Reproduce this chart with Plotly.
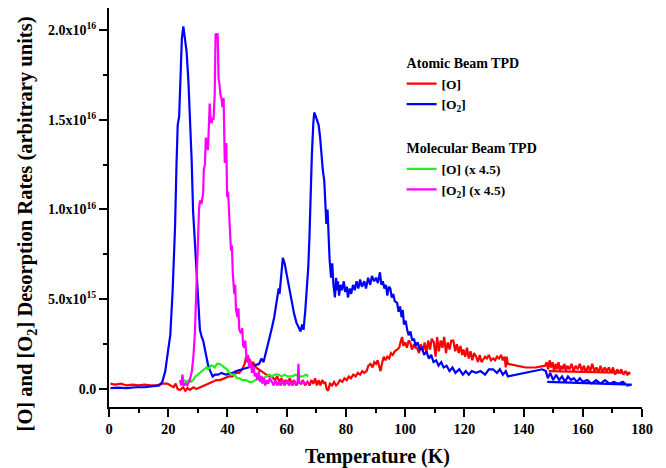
import plotly.graph_objects as go
import numpy as np

SCALE = 1e16  # values below are in units of 1e16

# Atomic beam TPD, [O2] (blue)
blue_T = [0.5,3,6,9,12,15,17,18,19,20,20.7,21.5,22.3,22.8,23.2,23.7,24.2,24.6,25.1,25.6,26.2,26.8,27.3,27.9,28.4,29.0,29.6,30.2,30.7,31.3,31.8,32.4,32.9,33.5,34.2,35.0,35.8,36.8,38,39.5,41.7,43,45,47.3,49,50.7,51.5,52.2,53,54,55,55.8,56.7,57.3,57.6,58,58.7,59.3,60,60.8,61.7,62.5,63.3,64,64.7,65.2,65.7,66.3,66.8,67.3,67.7,68,68.5,69.0,69.3,69.8,70.3,70.8,71.3,71.8,72.2,72.7,73,73.4,73.8,74.1,74.5,75,75.4,75.8,76.3,76.7,77.0,77.3,77.7,78.2,78.7,79.3,79.8,80.3,80.7,81.3,81.8,82.4,83,83.6,84.2,84.8,85.4,86.2,86.8,87.5,88.2,88.8,89.5,90.2,90.8,91.5,92.0,92.5,93.0,93.5,94.0,94.5,95.0,95.5,96.0,96.5,97.3,97.8,98.3,98.8,99.2,99.6,100.2,100.7,101.2,101.8,102.4,103,103.6,104.2,105,105.7,106.4,107.2,108,108.8,109.6,110.5,111.3,112.2,113,114,115,116,117,118.3,119.5,120.5,121.5,122.5,124,125.5,127,128.3,129.7,131,132,133,134,134.7,140.5,146.3,147.5,148.2,149,150,151,152,153,154,155,156,157,158,159,160,161.5,163,164.5,166,167.5,169,170.5,172,173.5,175,176.5,148]
blue_v = [0.005,0.008,0.005,0.01,0.01,0.015,0.02,0.04,0.10,0.22,0.30,0.55,0.90,1.25,1.47,1.52,1.85,1.95,2.02,1.96,1.88,1.72,1.55,1.28,0.99,0.82,0.68,0.48,0.33,0.29,0.27,0.22,0.17,0.13,0.10,0.07,0.08,0.08,0.09,0.08,0.09,0.10,0.11,0.12,0.13,0.14,0.17,0.15,0.20,0.27,0.34,0.40,0.49,0.56,0.53,0.62,0.73,0.70,0.64,0.57,0.48,0.42,0.37,0.34,0.32,0.36,0.33,0.44,0.55,0.68,0.85,1.05,1.30,1.48,1.54,1.52,1.50,1.47,1.40,1.28,1.22,1.16,1.05,0.92,1.00,0.85,0.72,0.62,0.70,0.58,0.51,0.62,0.55,0.60,0.52,0.58,0.55,0.60,0.54,0.57,0.51,0.56,0.53,0.58,0.55,0.60,0.56,0.61,0.57,0.60,0.56,0.62,0.58,0.63,0.60,0.62,0.59,0.65,0.58,0.60,0.56,0.58,0.52,0.57,0.56,0.51,0.53,0.49,0.48,0.43,0.46,0.40,0.44,0.36,0.38,0.33,0.30,0.32,0.27,0.28,0.24,0.26,0.22,0.23,0.19,0.21,0.17,0.19,0.15,0.16,0.13,0.15,0.12,0.13,0.10,0.12,0.09,0.11,0.08,0.10,0.08,0.10,0.09,0.10,0.08,0.11,0.11,0.09,0.11,0.08,0.10,0.07,0.09,0.11,0.10,0.06,0.09,0.05,0.08,0.05,0.07,0.04,0.07,0.05,0.06,0.04,0.06,0.04,0.05,0.03,0.05,0.03,0.05,0.03,0.04,0.03,0.04,0.02,0.025,0.04]

# Atomic beam TPD, [O] (red)
red_T = [0.5,2,4,6,8,10,12,14,16,18,19.7,21,21.8,22.5,23.2,24,25,25.8,26.5,27.3,28.5,29.5,30.7,32,33.5,35,36.2,37.5,39,40.5,41.7,43,44,45,45.8,46.3,46.8,47.4,48,48.7,49.6,50.5,51.5,52.2,53,54,55,56,56.8,57.5,58.2,59,59.6,60.3,61,61.8,62.5,63.2,64,64.8,65.5,66.2,67,67.8,68.3,69,69.6,70.2,70.8,71.4,72,72.6,73,73.5,74,74.6,75.3,76,76.7,77.3,78,78.8,79.5,80.3,81,81.7,82.5,83.3,84,84.8,85.5,86.2,87,87.6,88.3,89,89.6,90.2,90.7,91.2,91.7,92.3,92.8,93.4,94,94.6,95.2,95.8,96.5,97.3,98,98.6,99,99.4,100,100.6,101.2,101.7,102.3,103,103.5,104,104.7,105.3,106,106.6,107.2,107.8,108.4,109,109.7,110.3,110.8,111.4,112,112.6,113.2,113.8,114.4,115,115.6,116.3,116.9,117.5,118.1,118.7,119.3,119.7,120.3,120.9,121.5,122.1,122.7,123.3,124,124.6,125.2,125.8,126.3,127,127.6,128.3,129,129.7,130.4,131,131.7,132.4,133,133.6,134,134.3,134.7,137.5,140.7,144,147.3,147.8,148.3,148.8,149.3,149.8,150.3,150.8,151.3,151.8,152.3,152.8,153.3,153.8,154.3,154.8,155.5,156.2,156.9,157.6,158.3,159,159.7,160.4,161.1,161.8,162.5,163.2,163.9,164.6,165.3,166,166.7,167.4,168.1,168.8,169.5,170.2,170.9,171.6,172.3,173,173.7,174.4,175.1,176,148.5]
red_v = [0.03,0.025,0.03,0.02,0.025,0.02,0.025,0.02,0.02,0.03,0.03,0.02,0.01,0.03,0.0,-0.005,0.01,-0.01,0.005,-0.005,0.01,0.0,0.01,0.02,0.03,0.04,0.05,0.05,0.06,0.07,0.07,0.09,0.09,0.11,0.14,0.18,0.15,0.17,0.13,0.15,0.12,0.11,0.10,0.09,0.08,0.07,0.07,0.05,0.07,0.04,0.06,0.03,0.05,0.03,0.06,0.03,0.05,0.02,0.04,0.03,0.05,0.02,0.04,0.02,0.05,0.03,0.06,0.02,0.05,0.02,0.05,0.03,0.04,0.00,-0.01,0.03,0.02,0.04,0.02,0.03,0.05,0.04,0.06,0.05,0.07,0.06,0.08,0.07,0.09,0.08,0.10,0.09,0.10,0.13,0.14,0.12,0.15,0.14,0.16,0.12,0.10,0.15,0.18,0.16,0.18,0.17,0.20,0.19,0.21,0.22,0.23,0.27,0.29,0.24,0.26,0.23,0.27,0.26,0.22,0.25,0.23,0.23,0.20,0.25,0.21,0.26,0.20,0.27,0.22,0.28,0.26,0.18,0.29,0.21,0.27,0.23,0.29,0.20,0.26,0.22,0.27,0.27,0.21,0.25,0.20,0.24,0.19,0.22,0.18,0.23,0.17,0.21,0.16,0.20,0.18,0.15,0.19,0.15,0.16,0.18,0.17,0.19,0.16,0.17,0.16,0.18,0.17,0.19,0.16,0.18,0.12,0.18,0.14,0.13,0.12,0.12,0.13,0.15,0.11,0.16,0.12,0.15,0.10,0.14,0.11,0.15,0.10,0.13,0.11,0.14,0.10,0.13,0.11,0.14,0.10,0.13,0.11,0.14,0.10,0.13,0.09,0.13,0.10,0.14,0.10,0.12,0.09,0.13,0.09,0.12,0.10,0.12,0.09,0.12,0.08,0.11,0.09,0.11,0.08,0.10,0.08,0.09,0.10]

# Molecular beam TPD, [O] x 4.5 (green)
green_T = [24.6,25.3,26.2,27,27.7,28.4,29.2,30,30.7,31.5,32.2,32.9,33.6,34.3,35,35.7,36.4,37.3,38.2,39,39.8,40.7,41.5,42.3,43.2,44,45,46.3,47.4,48.4,49.5,50.5,51.5,52.3,53,54,55,56,57.3,58.3,59.3,60.3,61.7,63,64.3,65.5,66.5,67.3]
green_v = [0.04,0.05,0.04,0.05,0.04,0.05,0.07,0.08,0.09,0.10,0.11,0.12,0.11,0.13,0.13,0.12,0.14,0.14,0.13,0.12,0.11,0.09,0.08,0.08,0.06,0.06,0.05,0.05,0.04,0.04,0.05,0.06,0.07,0.06,0.07,0.08,0.07,0.08,0.08,0.07,0.08,0.07,0.07,0.08,0.07,0.07,0.08,0.07]

# Molecular beam TPD, [O2] x 4.5 (magenta)
mag_T = [24,24.4,24.8,25.2,25.8,26.4,27,27.3,28,28.5,29,29.5,30,30.4,30.7,31.2,31.8,32.0,32.4,32.7,33.0,33.4,33.7,34,34.3,34.6,35,35.3,35.7,35.9,36.0,36.4,36.7,37,37.3,37.6,38.0,38.3,38.7,39.1,39.4,39.6,39.9,40.2,40.4,40.8,41.2,41.5,41.8,42.3,42.6,42.9,43.4,43.7,44.0,44.6,45.0,45.3,45.7,46.0,46.5,47.0,47.3,47.8,48.3,48.8,49.2,49.6,50.1,50.6,51.0,51.5,51.8,52.3,52.8,53.3,53.8,54.3,55,55.6,56.2,56.8,57.4,58,58.6,59.2,59.6,60.2,60.8,61.4,62,62.6,63.2,63.7,64.0,64.2,64.8,65.5,66.3,67.3]
mag_v = [0.05,0.02,0.08,0.02,0.03,0.02,0.04,0.05,0.10,0.18,0.31,0.55,0.87,1.00,1.05,1.03,1.09,1.22,1.25,1.40,1.38,1.33,1.45,1.59,1.50,1.48,1.51,1.50,1.64,1.80,1.98,1.97,1.98,1.73,1.70,1.64,1.62,1.57,1.62,1.26,1.30,1.37,1.07,1.10,1.01,0.90,0.77,0.80,0.65,0.53,0.58,0.44,0.40,0.45,0.33,0.31,0.34,0.24,0.23,0.27,0.16,0.19,0.12,0.16,0.09,0.13,0.07,0.09,0.05,0.10,0.04,0.07,0.03,0.06,0.02,0.05,0.03,0.06,0.04,0.02,0.05,0.02,0.04,0.02,0.05,0.02,0.03,0.05,0.02,0.04,0.02,0.04,0.03,0.04,0.14,0.04,0.03,0.04,0.03,0.04]

y_tickvals = [0, 0.5, 1.0, 1.5, 2.0]
y_ticktext = ["0.0", "5.0x10<sup>15</sup>", "1.0x10<sup>16</sup>", "1.5x10<sup>16</sup>", "2.0x10<sup>16</sup>"]
x_tickvals = [0, 20, 40, 60, 80, 100, 120, 140, 160, 180]

FONT = "Liberation Serif"

fig = go.Figure()
series = [
    (red_T, red_v, "#ff0000", "[O]", "atomic", "Atomic Beam TPD", 1),
    (blue_T, blue_v, "#0000ff", "[O<sub>2</sub>]", "atomic", "Atomic Beam TPD", 2),
    (green_T, green_v, "#22ee22", "[O] (x 4.5)", "molecular", "Molecular Beam TPD", 3),
    (mag_T, mag_v, "#ff00ff", "[O<sub>2</sub>] (x 4.5)", "molecular", "Molecular Beam TPD", 4),
]
for T, v, c, name, grp, gtitle, rank in series:
    fig.add_trace(go.Scatter(
        x=T, y=np.array(v) * SCALE, mode="lines", name=name,
        line=dict(color=c, width=2.2),
        legendgroup=grp, legendrank=rank,
        legendgrouptitle=dict(text=gtitle, font=dict(family=FONT, size=14, color="black", weight="bold")),
    ))

fig.update_layout(
    width=666, height=468,
    margin=dict(l=101, r=32, t=0, b=69),
    paper_bgcolor="white", plot_bgcolor="white",
    showlegend=True,
    legend=dict(x=0.549, y=0.902, xanchor="left", yanchor="top",
                font=dict(family=FONT, size=13.5, color="black", weight="bold"),
                tracegroupgap=23, bgcolor="rgba(0,0,0,0)"),
    font=dict(family=FONT, color="black"),
    annotations=[
        dict(text="Temperature (K)", xref="paper", yref="paper", x=0.503, y=-0.1253,
             xanchor="center", yanchor="middle", showarrow=False,
             font=dict(family=FONT, size=20, color="black", weight="bold")),
        dict(text="[O] and [O<sub>2</sub>] Desorption Rates (arbitrary units)", xref="paper", yref="paper",
             x=-0.155, y=0.4586, xanchor="center", yanchor="middle", textangle=-90, showarrow=False,
             font=dict(family=FONT, size=20.5, color="black", weight="bold")),
    ],
)
fig.update_xaxes(
    range=[0, 180], showgrid=False, zeroline=False,
    showline=True, linecolor="black", linewidth=2,
    ticks="outside", ticklen=8, tickwidth=2, tickcolor="black",
    tickvals=x_tickvals,
    tickfont=dict(family=FONT, size=14.5, color="black", weight="bold"),
    minor=dict(dtick=10, ticks="outside", ticklen=4, tickwidth=2, tickcolor="black"),
)
fig.update_yaxes(
    range=[-0.1 * SCALE, 2.122 * SCALE], showgrid=False, zeroline=False,
    showline=True, linecolor="black", linewidth=2,
    ticks="outside", ticklen=8, tickwidth=2, tickcolor="black",
    tickvals=[t * SCALE for t in y_tickvals], ticktext=y_ticktext,
    tickfont=dict(family=FONT, size=14, color="black", weight="bold"),
    minor=dict(dtick=0.25 * SCALE, ticks="outside", ticklen=4, tickwidth=2, tickcolor="black"),
)

fig.write_html("out.html")
